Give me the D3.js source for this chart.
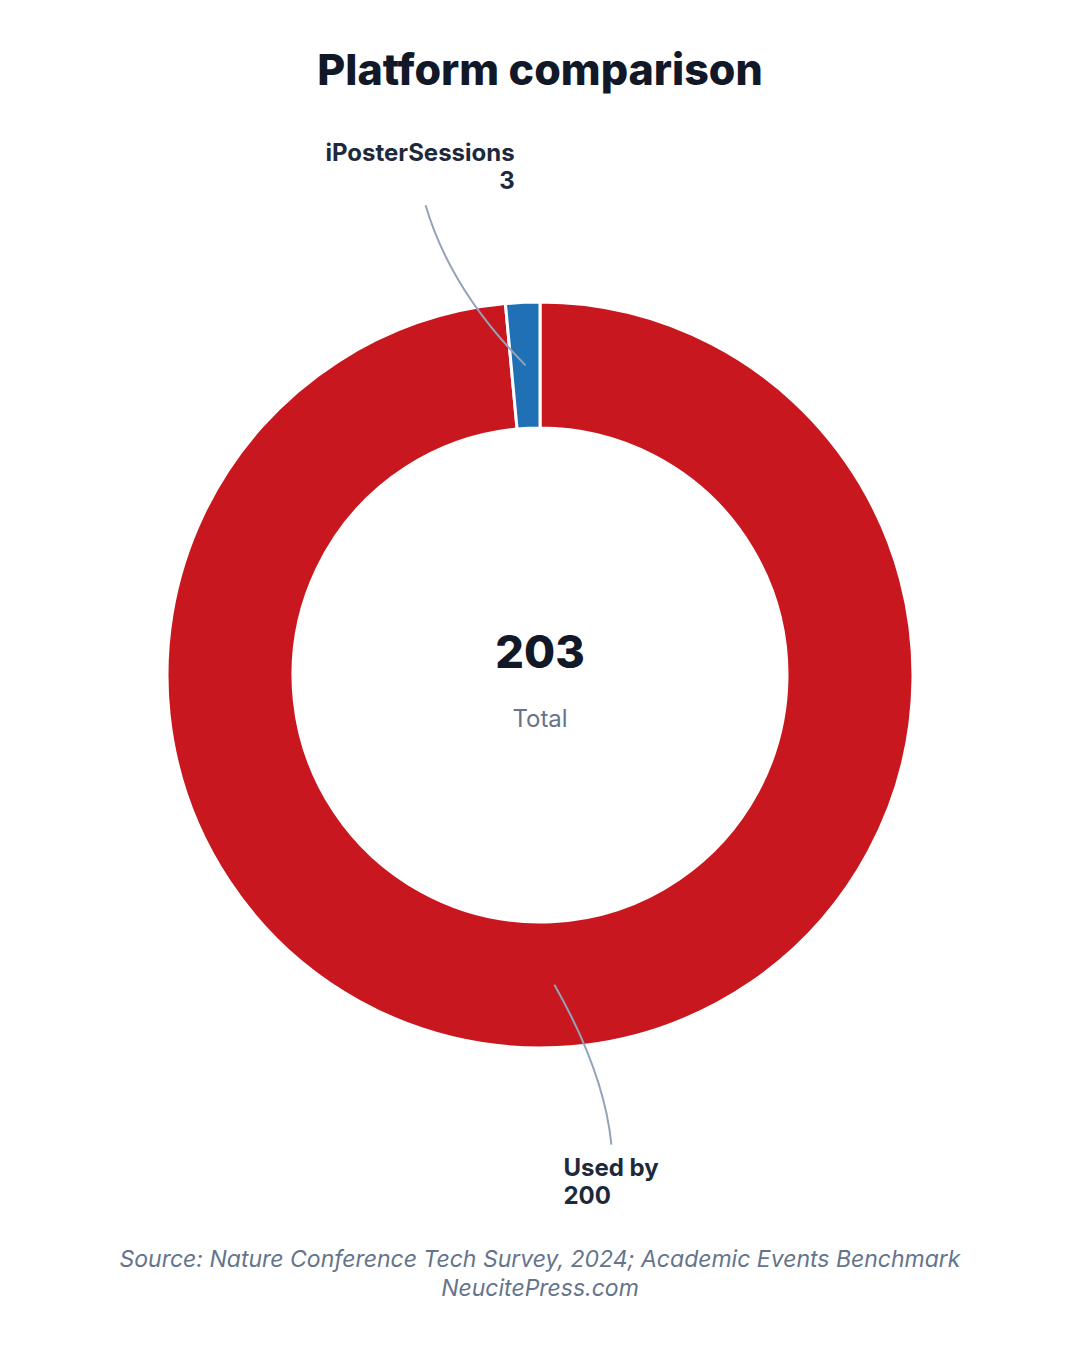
<!DOCTYPE html>
<html>
<head>
<meta charset="utf-8">
<script src="https://cdn.jsdelivr.net/npm/d3@7"></script>
<style>
  body { margin: 0; background: #fff; }
  svg { display: block; font-family: Inter, "Noto Sans", sans-serif; }
</style>
</head>
<body>
<svg width="1080" height="1350"></svg>
<script>
// data
const categories = ['Used by', 'iPosterSessions'];
const values = [200, 3];
const colors = ['#C8171E', '#1F70B4'];
const sourceLines = [
    'Source: Nature Conference Tech Survey, 2024; Academic Events Benchmark',
    'NeucitePress.com'
];

const W = 1080, H = 1350;
const cx = 540, cy = 675;
const outerR = 373, innerR = 247;

const svg = d3.select('svg');

svg.append('text')
    .attr('x', W / 2).attr('y', 85)
    .attr('text-anchor', 'middle')
    .style('font-size', '43px').style('font-weight', 800)
    .style('fill', '#111827')
    .text('Platform comparison');

const slices = categories.map((c, i) => ({ name: c, value: values[i], color: colors[i] }));

const pie = d3.pie().value(d => d.value).sort(null);
const arc = d3.arc().innerRadius(innerR).outerRadius(outerR);
const midArc = d3.arc().innerRadius(310).outerRadius(310);

const g = svg.append('g').attr('transform', `translate(${cx},${cy})`);
const arcs = pie(slices);

g.selectAll('path.slice')
    .data(arcs)
    .join('path')
    .attr('class', 'slice')
    .attr('d', arc)
    .attr('fill', d => d.data.color)
    .attr('stroke', '#fff')
    .attr('stroke-width', 3);

// label layout: offsets from the slice centroid (end of leader, control point, text)
const layout = {
    'Used by': { end: [57, 160], ctrl: [50, 88], anchor: 'start', tx: -48, ty: 31 },
    'iPosterSessions': { end: [-100, -160], ctrl: [-75, -75], anchor: 'end', tx: 89, ty: -44 }
};

arcs.forEach(d => {
    const [mx, my] = midArc.centroid(d);
    const L = layout[d.data.name];
    const ex = mx + L.end[0], ey = my + L.end[1];
    const p = d3.path();
    p.moveTo(mx, my);
    p.quadraticCurveTo(mx + L.ctrl[0], my + L.ctrl[1], ex, ey);
    g.append('path')
        .attr('d', p.toString())
        .attr('fill', 'none')
        .attr('stroke', '#94A3B8')
        .attr('stroke-width', 2);

    const t = g.append('text')
        .attr('text-anchor', L.anchor)
        .style('font-size', '24px').style('font-weight', 700)
        .style('fill', '#1E293B');
    t.append('tspan').attr('x', ex + L.tx).attr('y', ey + L.ty).text(d.data.name);
    t.append('tspan').attr('x', ex + L.tx).attr('y', ey + L.ty + 28).text(d3.format(',')(d.data.value));
});

const total = d3.sum(values);
g.append('text')
    .attr('text-anchor', 'middle').attr('y', -7)
    .style('font-size', '45px').style('font-weight', 800)
    .style('fill', '#111827')
    .text(total);
g.append('text')
    .attr('text-anchor', 'middle').attr('y', 52)
    .style('font-size', '24px')
    .style('fill', '#64748B')
    .text('Total');

svg.append('g').selectAll('text')
    .data(sourceLines)
    .join('text')
    .attr('x', W / 2).attr('y', (d, i) => 1267 + i * 29)
    .attr('text-anchor', 'middle')
    .style('font-size', '23px').style('font-style', 'italic')
    .style('fill', '#64748B')
    .text(d => d);
</script>
</body>
</html>
